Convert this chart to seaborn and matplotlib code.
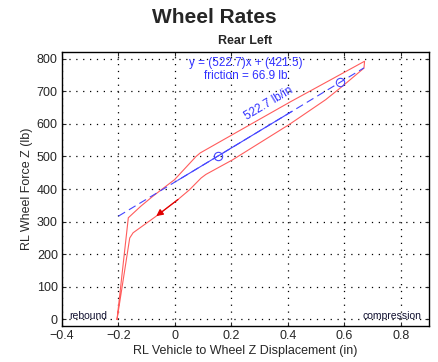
import matplotlib
matplotlib.use("Agg")
import matplotlib.pyplot as plt
import pandas as pd
import seaborn as sns

# hysteresis loop, upper branch (bottom -> top right)
upper_x = [-0.205, -0.165, -0.12, -0.078, -0.048, -0.001, 0.075, 0.09, 0.20, 0.41, 0.672]
upper_y = [0, 312, 348, 378, 398, 429, 500, 511, 565, 668, 792]
# lower branch (top right -> bottom)
lower_x = [0.670, 0.593, 0.534, 0.405, 0.205, 0.11, 0.093, 0.052, 0.011, -0.066, -0.148, -0.160, -0.205]
lower_y = [771, 715, 674, 598, 490, 445, 434, 398, 368, 317, 266, 250, 0]

slope = 522.7
intercept = 421.5
friction = 66.9
fit_x = [-0.2, 0.67]
fit_solid_x = [0.01, 0.415]
marker_x = [0.152, 0.585]

arrow_start = (0.011, 368)
arrow_end = (-0.066, 317)

sns.set_style("ticks")
plt.rcParams["font.family"] = ["Liberation Sans", "DejaVu Sans"]

loop = pd.DataFrame({"x": upper_x + lower_x, "y": upper_y + lower_y})
fit = pd.DataFrame({"x": fit_x, "y": [slope * v + intercept for v in fit_x]})
fit_solid = pd.DataFrame({"x": fit_solid_x, "y": [slope * v + intercept for v in fit_solid_x]})
marks = pd.DataFrame({"x": marker_x, "y": [slope * v + intercept for v in marker_x]})

fig = plt.figure(figsize=(4.39, 3.62), dpi=100)
ax = fig.add_axes([0.1412, 0.0994, 0.8358, 0.7566])

sns.lineplot(data=loop, x="x", y="y", sort=False, estimator=None, ax=ax,
             color="#ff5c5c", lw=0.8)
sns.lineplot(data=fit, x="x", y="y", ax=ax, color="#4545ff", lw=0.8,
             dashes=False, linestyle=(0, (7, 4)))
sns.lineplot(data=fit_solid, x="x", y="y", ax=ax, color="#4545ff", lw=0.8)
ax.plot(marks["x"], marks["y"], "o", mfc="none", mec="#4545ff", ms=6, mew=0.8)

ax.annotate("", xy=arrow_end, xytext=arrow_start,
            arrowprops=dict(arrowstyle="-|>", color="#e00000", lw=0.9,
                            mutation_scale=10, shrinkA=0, shrinkB=0))

ax.text(0.253, 787, f"y = ({slope})x + ({intercept})", color="#3030ff",
        ha="center", va="center", fontsize=8.5)
ax.text(0.251, 746, f"friction = {friction} lb", color="#3030ff",
        ha="center", va="center", fontsize=8.5)
ax.text(0.334, 664, f"{slope} lb/in", color="#3030ff", ha="center",
        va="center", fontsize=8.5, rotation=31)
ax.text(-0.375, 12, "rebound", fontsize=7.5, ha="left", va="center", color="#101030")
ax.text(0.875, 12, "compression", fontsize=7.5, ha="right", va="center", color="#101030")

ax.set_xlim(-0.4, 0.9)
ax.set_ylim(-20, 820)
ax.set_xticks([-0.4, -0.2, 0, 0.2, 0.4, 0.6, 0.8])
ax.set_xticklabels(["\u22120.4", "\u22120.2", "0", "0.2", "0.4", "0.6", "0.8"])
ax.set_yticks(range(0, 801, 100))
ax.grid(True, color="black", linestyle=(0, (1, 4.5)), lw=0.9)
ax.tick_params(direction="in", length=3, labelsize=9, top=True, right=True, pad=3)
for s in ax.spines.values():
    s.set_color("black")
    s.set_linewidth(1.0)

ax.set_xlabel("RL Vehicle to Wheel Z Displacement (in)", fontsize=9, labelpad=2)
ax.set_ylabel("RL Wheel Force Z (lb)", fontsize=9, labelpad=3)
ax.set_title("Rear Left", fontsize=9, fontweight="bold", pad=6)
fig.text(0.4885, 0.953, "Wheel Rates", ha="center", va="center",
         fontsize=15, fontweight="bold")

fig.savefig("out.png", dpi=100)
